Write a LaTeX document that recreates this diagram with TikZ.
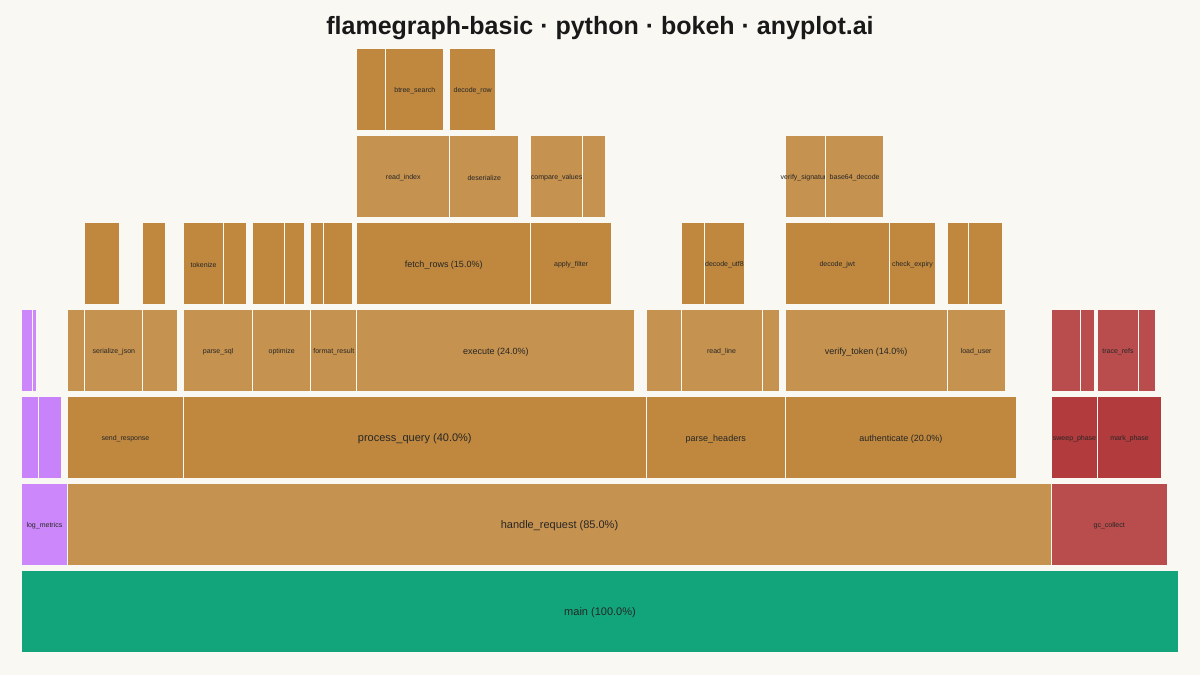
\documentclass[tikz,border=0pt]{standalone}
\usepackage{fontspec}
\setmainfont{Liberation Sans}
\usepackage{xcolor}
\usepackage{tikz}
\definecolor{mybg}{HTML}{FAF8F2}
\definecolor{myroot}{HTML}{12A57C}
\definecolor{mybrownA}{HTML}{C6924F}
\definecolor{mybrownB}{HTML}{C0883F}
\definecolor{myvioletA}{HTML}{CC88FA}
\definecolor{myvioletB}{HTML}{C983FA}
\definecolor{myredA}{HTML}{B94D4D}
\definecolor{myredB}{HTML}{B23B3D}
\definecolor{mytext}{HTML}{262626}
\pgfkeys{tikz/myframe/.style={draw=mybg,line width=1pt}}
\pgfkeys{tikz/myframelabel/.style={text=mytext,inner sep=0pt,anchor=center,yshift=-1.5pt}}
\pgfkeys{tikz/myframesmall/.style={myframelabel,font=\fontsize{7}{8}\selectfont}}
\pgfkeys{tikz/myframemid/.style={myframelabel,font=\fontsize{9}{10}\selectfont}}
\pgfkeys{tikz/myframebig/.style={myframelabel,font=\fontsize{11}{12}\selectfont}}
\pgfkeys{tikz/mytitle/.style={text=black!90,inner sep=0pt,anchor=base,font=\fontsize{25}{28}\selectfont\bfseries}}
\newcommand\myframeunit{11.574}
\newcommand\myframeleft{21.3}
\newcommand\myframebase{22.7}
\newcommand\myframerow{87}
\newcommand\myframeheight{81.3}
\newcommand*\myframe[4]{
    \draw[myframe,fill=#4] ({\myframeleft+\myframeunit*#2},{\myframebase+\myframerow*#1})
        rectangle ++({\myframeunit*#3},\myframeheight);
}
\newcommand*\myframetext[7][myframesmall]{
    \myframe{#3}{#4}{#5}{#6}
    \node[#1] (#2) at ({\myframeleft+\myframeunit*(#4+#5/2)},{\myframebase+\myframerow*#3+\myframeheight/2}) {#7};
}

\begin{document}
\begin{tikzpicture}[x=1pt,y=1pt]
    \fill[mybg] (0,0) rectangle (1200,675);
    \useasboundingbox (0,0) rectangle (1200,675);
    \node[mytitle] (title) at (600,640.7) {flamegraph-basic · python · bokeh · anyplot.ai};
    % depth 0
    \myframetext[myframebig]{main}{0}{0}{100}{myroot}{main (100.0\%)}
    % depth 1
    \myframetext{logmetrics}{1}{0}{4}{myvioletA}{log\_metrics}
    \myframetext[myframebig]{handlerequest}{1}{4}{85}{mybrownA}{handle\_request (85.0\%)}
    \myframetext{gccollect}{1}{89}{10}{myredA}{gc\_collect}
    % depth 2
    \myframe{2}{0}{1.5}{myvioletB}
    \myframe{2}{1.5}{2}{myvioletB}
    \myframetext{sendresponse}{2}{4}{10}{mybrownB}{send\_response}
    \myframetext[myframebig]{processquery}{2}{14}{40}{mybrownB}{process\_query (40.0\%)}
    \myframetext[myframemid]{parseheaders}{2}{54}{12}{mybrownB}{parse\_headers}
    \myframetext[myframemid]{authenticate}{2}{66}{20}{mybrownB}{authenticate (20.0\%)}
    \myframetext{sweepphase}{2}{89}{4}{myredB}{sweep\_phase}
    \myframetext{markphase}{2}{93}{5.5}{myredB}{mark\_phase}
    % depth 3
    \myframe{3}{0}{1}{myvioletA}
    \myframe{3}{1}{0.33}{myvioletA}
    \myframe{3}{4}{1.5}{mybrownA}
    \myframetext{serializejson}{3}{5.5}{5}{mybrownA}{serialize\_json}
    \myframe{3}{10.5}{3}{mybrownA}
    \myframetext{parsesql}{3}{14}{6}{mybrownA}{parse\_sql}
    \myframetext{optimize}{3}{20}{5}{mybrownA}{optimize}
    \myframetext{formatresult}{3}{25}{4}{mybrownA}{format\_result}
    \myframetext[myframemid]{execute}{3}{29}{24}{mybrownA}{execute (24.0\%)}
    \myframe{3}{54}{3}{mybrownA}
    \myframetext{readline}{3}{57}{7}{mybrownA}{read\_line}
    \myframe{3}{64}{1.5}{mybrownA}
    \myframetext[myframemid]{verifytoken}{3}{66}{14}{mybrownA}{verify\_token (14.0\%)}
    \myframetext{loaduser}{3}{80}{5}{mybrownA}{load\_user}
    \myframe{3}{89}{2.5}{myredA}
    \myframe{3}{91.5}{1.2}{myredA}
    \myframetext{tracerefs}{3}{93}{3.5}{myredA}{trace\_refs}
    \myframe{3}{96.5}{1.5}{myredA}
    % depth 4
    \myframe{4}{5.5}{3}{mybrownB}
    \myframe{4}{10.5}{2}{mybrownB}
    \myframetext{tokenize}{4}{14}{3.5}{mybrownB}{tokenize}
    \myframe{4}{17.5}{2}{mybrownB}
    \myframe{4}{20}{2.7}{mybrownB}
    \myframe{4}{22.7}{1.8}{mybrownB}
    \myframe{4}{25}{1.15}{mybrownB}
    \myframe{4}{26.15}{2.5}{mybrownB}
    \myframetext[myframemid]{fetchrows}{4}{29}{15}{mybrownB}{fetch\_rows (15.0\%)}
    \myframetext{applyfilter}{4}{44}{7}{mybrownB}{apply\_filter}
    \myframe{4}{57}{2}{mybrownB}
    \myframetext{decodeutf}{4}{59}{3.5}{mybrownB}{decode\_utf8}
    \myframetext{decodejwt}{4}{66}{9}{mybrownB}{decode\_jwt}
    \myframetext{checkexpiry}{4}{75}{4}{mybrownB}{check\_expiry}
    \myframe{4}{80}{1.8}{mybrownB}
    \myframe{4}{81.8}{3}{mybrownB}
    % depth 5
    \myframetext{readindex}{5}{29}{8}{mybrownA}{read\_index}
    \myframetext{deserialize}{5}{37}{6}{mybrownA}{deserialize}
    \myframetext{comparevalues}{5}{44}{4.5}{mybrownA}{compare\_values}
    \myframe{5}{48.5}{2}{mybrownA}
    \myframetext{verifysignature}{5}{66}{3.5}{mybrownA}{verify\_signature}
    \myframetext{basedecode}{5}{69.5}{5}{mybrownA}{base64\_decode}
    % depth 6
    \myframe{6}{29}{2.5}{mybrownB}
    \myframetext{btreesearch}{6}{31.5}{5}{mybrownB}{btree\_search}
    \myframetext{decoderow}{6}{37}{4}{mybrownB}{decode\_row}
\end{tikzpicture}
\end{document}
